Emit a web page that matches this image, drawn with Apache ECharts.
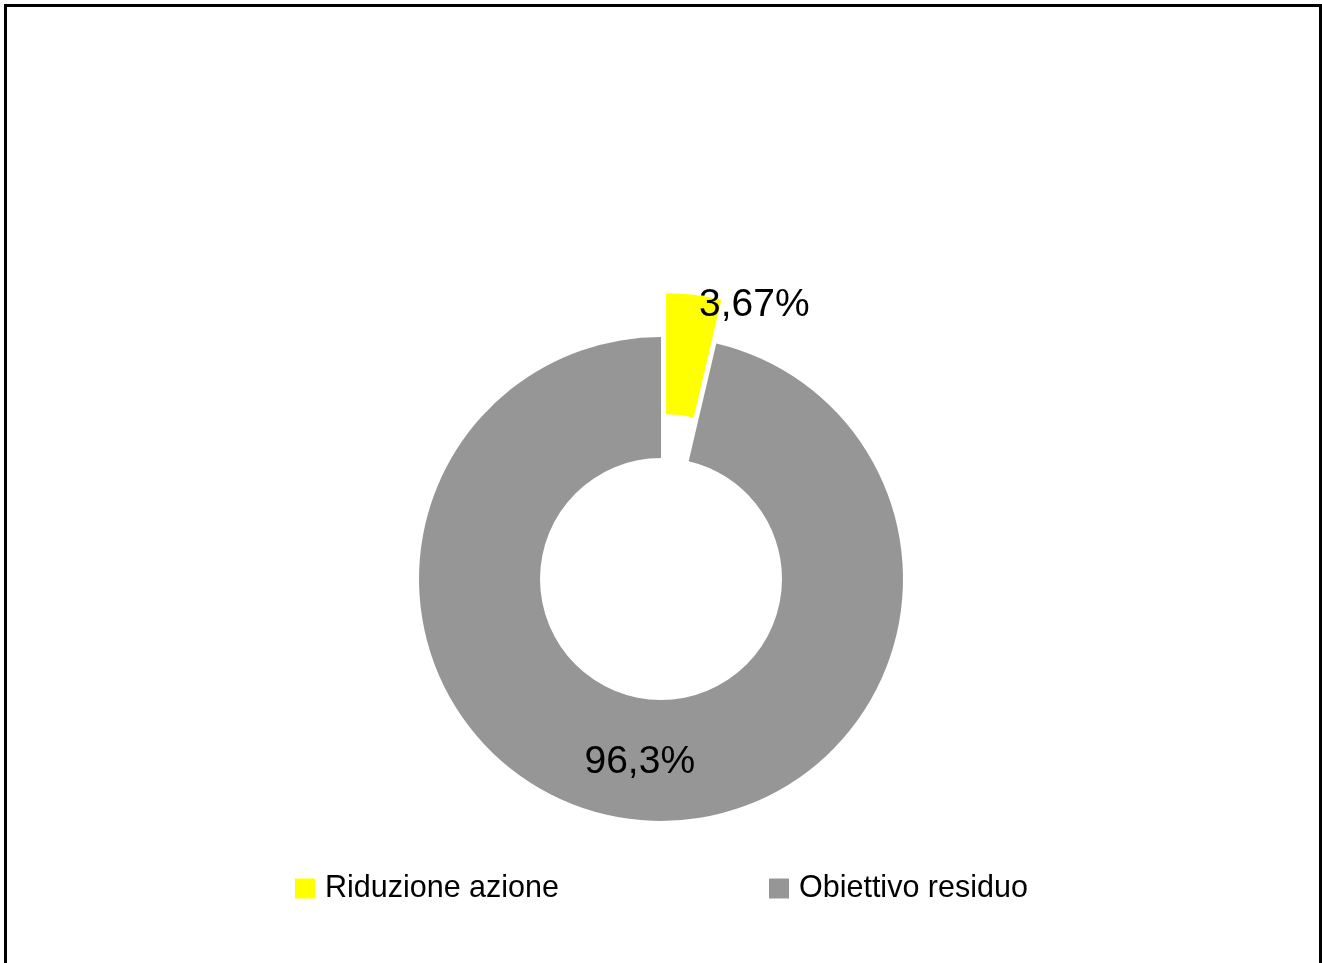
<!DOCTYPE html>
<html>
<head>
<meta charset="utf-8">
<script src="https://cdn.jsdelivr.net/npm/echarts@6/dist/echarts.min.js"></script>
<style>
  html, body { margin: 0; padding: 0; background: #fff; overflow: hidden; }
  #main { position: absolute; left: 0; top: 0; width: 1322px; height: 963px; }
  #frame { position: absolute; left: 4px; top: 4px; width: 1318px; height: 1000px;
           box-sizing: border-box; border: 3px solid #000; border-bottom: none; pointer-events: none; }
</style>
</head>
<body>
<div id="main"></div>
<div id="frame"></div>
<script>
// dati del grafico
var categories = ['Riduzione azione', 'Obiettivo residuo'];
var values = [3.67, 96.33];
var labels = ['3,67%', '96,3%'];
var colors = ['#ffff00', '#969696'];

var myChart = echarts.init(document.getElementById('main'));

var data = categories.map(function (name, i) {
    return {
        name: name,
        value: values[i],
        selected: i === 0,
        itemStyle: { color: colors[i] }
    };
});

var option = {
    animation: false,
    textStyle: { fontFamily: 'Liberation Sans, Arial, sans-serif' },
    legend: {
        left: 290,
        top: 868,
        itemWidth: 20,
        itemHeight: 20,
        itemGap: 210,
        icon: 'rect',
        selectedMode: false,
        textStyle: {
            color: '#000',
            fontSize: 30.5,
            lineHeight: 31,
            padding: [0, 0, 0, 5],
            fontFamily: 'Liberation Sans, Arial, sans-serif'
        },
        data: categories
    },
    series: [{
        type: 'pie',
        center: [661, 579],
        radius: [121, 242],
        startAngle: 90,
        clockwise: true,
        selectedMode: 'single',
        selectedOffset: 44,
        avoidLabelOverlap: false,
        emphasis: { disabled: true },
        itemStyle: { borderWidth: 0 },
        label: {
            show: true,
            position: 'inside',
            color: '#000',
            fontSize: 39,
            fontFamily: 'Liberation Sans, Arial, sans-serif',
            formatter: function (p) { return labels[p.dataIndex]; }
        },
        labelLine: { show: false },
        labelLayout: function (params) {
            if (params.dataIndex === 0) {
                return { dx: 67, dy: -47 };
            }
        },
        data: data
    }]
};

myChart.setOption(option);
</script>
</body>
</html>
